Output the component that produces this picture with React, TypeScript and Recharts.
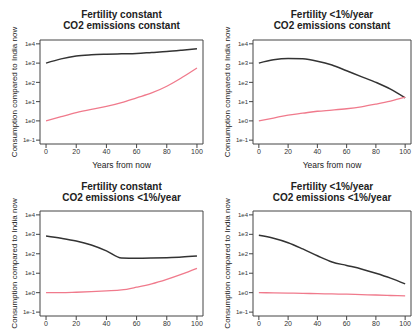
import React from 'react';
import { LineChart, Line, XAxis, YAxis, ReferenceArea } from 'recharts';

const YEARS = [0, 10, 20, 30, 40, 50, 60, 70, 80, 90, 100];
const X_TICKS = [0, 20, 40, 60, 80, 100];
const Y_TICKS = [0.1, 1, 10, 100, 1000, 10000];

// consumption relative to India now (log scale)
const P1_BLACK = [1000, 1660, 2340, 2690, 2880, 3020, 3160, 3550, 3980, 4680, 5620];
const P1_RED = [1, 1.66, 2.69, 3.98, 5.62, 8.91, 15.8, 28.2, 63.1, 178, 562];
const P2_BLACK = [1000, 1480, 1740, 1660, 1260, 794, 398, 200, 100, 44.7, 15.8];
const P2_RED = [1, 1.41, 2.0, 2.51, 3.16, 3.63, 4.27, 5.37, 7.41, 10.7, 17.0];
const P3_BLACK = [813, 631, 457, 282, 141, 60.3, 58.9, 60.3, 63.1, 67.6, 75.9];
const P3_RED = [1, 1, 1.05, 1.12, 1.23, 1.38, 1.91, 2.82, 4.79, 8.91, 17.8];
const P4_BLACK = [891, 631, 372, 178, 79.4, 38.0, 25.1, 16.6, 10, 5.62, 2.82];
const P4_RED = [1, 0.977, 0.955, 0.923, 0.891, 0.861, 0.832, 0.794, 0.759, 0.716, 0.676];

const TITLES = [
  ['Fertility constant', 'CO2 emissions constant'],
  ['Fertility <1%/year', 'CO2 emissions constant'],
  ['Fertility constant', 'CO2 emissions <1%/year'],
  ['Fertility <1%/year', 'CO2 emissions <1%/year'],
];

const Y_MIN = Math.pow(10, -1.2);
const Y_MAX = Math.pow(10, 4.2);

function YLabel({ viewBox }: any) {
  if (!viewBox) return null;
  const x = viewBox.x + 15;
  const y = viewBox.y + viewBox.height / 2;
  return (
    <text x={x} y={y} transform={`rotate(-90 ${x} ${y})`} textAnchor="middle" dominantBaseline="middle"
      fontSize={8} fill="#222">
      Consumption compared to India now
    </text>
  );
}

function Panel({ left, top, width, height, margin, axisHeight, titleTop, title, black, red }: any) {
  const data = YEARS.map((year, i) => ({ year, black: black[i], red: red[i] }));
  return (
    <div style={{ position: 'absolute', left, top, width, height }}>
      <div style={{
        position: 'absolute', left: margin.left + 40, width: width - margin.left - 40 - margin.right,
        top: titleTop, textAlign: 'center', fontWeight: 'bold', fontSize: 10, lineHeight: '11px', color: '#222',
      }}>
        {title[0]}<br />{title[1]}
      </div>
      <LineChart width={width} height={height} data={data} margin={margin}>
        <XAxis
          dataKey="year" type="number" domain={[-4, 104]} ticks={X_TICKS} allowDataOverflow interval={0}
          axisLine={false} tickSize={4} tickMargin={1} tickLine={{ stroke: '#444' }}
          tick={{ fontSize: 7, fill: '#333' }} height={axisHeight}
          label={{ value: 'Years from now', position: 'insideBottom', offset: 2, fontSize: 8.5, fill: '#222' }}
        />
        <YAxis
          scale="log" domain={[Y_MIN, Y_MAX]} ticks={Y_TICKS} allowDataOverflow interval={0} width={40}
          axisLine={false} tickSize={4} tickMargin={1} tickLine={{ stroke: '#444' }}
          tick={{ fontSize: 6, fill: '#333' }}
          tickFormatter={(v: number) => `1e${Math.round(Math.log10(v))}`}
          label={{ content: <YLabel /> }}
        />
        <ReferenceArea x1={-4} x2={104} y1={Y_MIN} y2={Y_MAX} fill="none" stroke="#444" strokeWidth={1} />
        <Line type="monotone" dataKey="black" stroke="#333" strokeWidth={1.5} dot={false} isAnimationActive={false} />
        <Line type="monotone" dataKey="red" stroke="#f07a8c" strokeWidth={1.3} dot={false} isAnimationActive={false} />
      </LineChart>
    </div>
  );
}

export default function App() {
  const row1 = { top: 0, height: 170, axisHeight: 26, margin: { top: 40, right: 4, bottom: 0, left: 0 }, titleTop: 9 };
  const row2 = { top: 170, height: 175, axisHeight: 29, margin: { top: 41, right: 4, bottom: 0, left: 0 }, titleTop: 11 };
  return (
    <div style={{
      position: 'absolute', left: 0, top: 0, width: 415, height: 334, background: '#fff', overflow: 'hidden',
      fontFamily: '"Liberation Sans", Arial, sans-serif',
    }}>
      <Panel left={0} width={207} {...row1} title={TITLES[0]} black={P1_BLACK} red={P1_RED} />
      <Panel left={213} width={202} {...row1} title={TITLES[1]} black={P2_BLACK} red={P2_RED} />
      <Panel left={0} width={207} {...row2} title={TITLES[2]} black={P3_BLACK} red={P3_RED} />
      <Panel left={213} width={202} {...row2} title={TITLES[3]} black={P4_BLACK} red={P4_RED} />
    </div>
  );
}
